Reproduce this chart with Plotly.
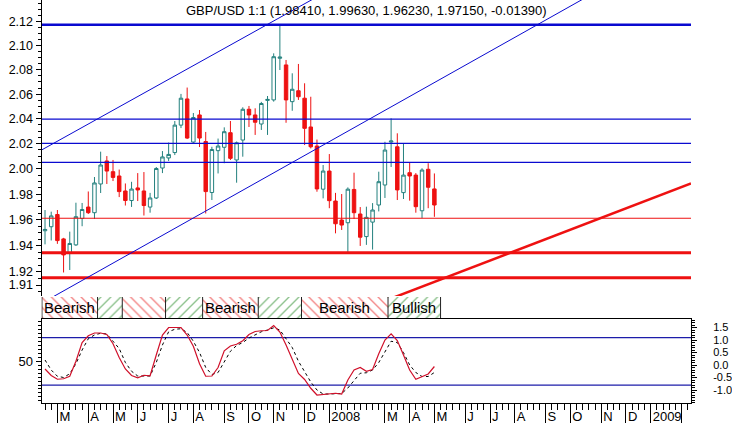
import numpy as np
import pandas as pd
import plotly.graph_objects as go

# ---------------- data ----------------
dates = pd.date_range("2007-02-16", periods=64, freq="7D")
opens = [1.9515, 1.9546, 1.9641, 1.9452, 1.9344, 1.9406, 1.9610, 1.9699, 1.9655, 1.9880,
         2.0062, 1.9977, 1.9943, 1.9825, 1.9750, 1.9849, 1.9825, 1.9699, 1.9770, 2.0006,
         2.0086, 2.0129, 2.0349, 2.0561, 2.0213, 2.0431, 2.0217, 1.9813, 2.0144, 2.0171,
         2.0288, 2.0070, 2.0229, 2.0477, 2.0431, 2.0358, 2.0549, 2.0553, 2.0895, 2.0840,
         2.0539, 2.0628, 2.0567, 2.0334, 2.0181, 1.9839, 1.9982, 1.9746, 1.9598, 1.9577,
         1.9837, 1.9645, 1.9470, 1.9582, 1.9715, 1.9872, 2.0213, 2.0175, 1.9812, 1.9969,
         1.9950, 1.9670, 1.9996, 1.9841]
highs = [1.9676, 1.9663, 1.9676, 1.9460, 1.9508, 1.9733, 1.9731, 1.9821, 1.9935, 2.0136,
         2.0101, 2.0070, 1.9994, 1.9884, 1.9897, 1.9966, 1.9974, 1.9810, 2.0014, 2.0141,
         2.0209, 2.0382, 2.0602, 2.0654, 2.0447, 2.0471, 2.0294, 2.0175, 2.0241, 2.0331,
         2.0382, 2.0217, 2.0493, 2.0504, 2.0485, 2.0537, 2.0585, 2.0936, 2.1165, 2.0881,
         2.0771, 2.0848, 2.0689, 2.0579, 2.0233, 2.0030, 2.0117, 1.9810, 1.9801, 1.9853,
         1.9969, 1.9699, 1.9702, 1.9730, 1.9977, 2.0215, 2.0404, 2.0283, 2.0203, 2.0049,
         1.9966, 2.0004, 2.0044, 1.9963]
lows = [1.9410, 1.9440, 1.9414, 1.9195, 1.9214, 1.9398, 1.9550, 1.9645, 1.9606, 1.9809,
        1.9880, 1.9903, 1.9777, 1.9711, 1.9700, 1.9746, 1.9633, 1.9655, 1.9762, 1.9966,
        2.0062, 2.0109, 2.0325, 2.0237, 2.0201, 2.0173, 1.9649, 1.9754, 1.9963, 2.0044,
        2.0070, 1.9890, 2.0096, 2.0334, 2.0270, 2.0310, 2.0270, 2.0539, 2.0798, 2.0368,
        2.0465, 2.0553, 2.0189, 2.0162, 1.9819, 1.9767, 1.9690, 1.9495, 1.9521, 1.9344,
        1.9606, 1.9398, 1.9406, 1.9370, 1.9665, 1.9770, 2.0014, 1.9754, 1.9762, 1.9749,
        1.9655, 1.9612, 1.9690, 1.9623]
closes = [1.9525, 1.9630, 1.9439, 1.9329, 1.9417, 1.9624, 1.9680, 1.9655, 1.9888, 2.0030,
          1.9982, 1.9932, 1.9820, 1.9750, 1.9840, 1.9833, 1.9711, 1.9770, 2.0002, 2.0094,
          2.0114, 2.0349, 2.0567, 2.0245, 2.0410, 2.0245, 1.9820, 2.0153, 2.0181, 2.0296,
          2.0083, 2.0207, 2.0477, 2.0431, 2.0372, 2.0524, 2.0557, 2.0908, 2.0905, 2.0553,
          2.0640, 2.0579, 2.0323, 2.0175, 1.9841, 1.9982, 1.9749, 1.9569, 1.9559, 1.9839,
          1.9655, 1.9465, 1.9619, 1.9676, 1.9898, 2.0149, 2.0221, 1.9833, 1.9950, 1.9943,
          1.9702, 1.9990, 1.9854, 1.9715]

osc_fast = [-0.16, -0.42, -0.57, -0.55, -0.45, 0.15, 0.90, 1.17, 1.28, 1.28,
            1.22, 0.85, 0.30, -0.16, -0.42, -0.51, -0.41, -0.43, 0.40, 1.20,
            1.50, 1.51, 1.50, 1.20, 0.75, 0.05, -0.45, -0.44, -0.10, 0.57,
            0.76, 0.83, 0.97, 1.22, 1.34, 1.37, 1.38, 1.58, 1.32, 0.80,
            0.25, -0.34, -0.58, -0.93, -1.20, -1.18, -1.14, -1.13, -1.16, -0.60,
            -0.20, -0.10, -0.25, -0.18, 0.45, 1.00, 1.25, 0.98, 0.40, -0.20,
            -0.57, -0.47, -0.36, -0.06]
osc_slow = [0.20, -0.20, -0.45, -0.50, -0.35, 0.05, 0.60, 1.05, 1.20, 1.27,
            1.24, 0.97, 0.66, 0.10, -0.25, -0.44, -0.44, -0.44, 0.10, 0.80,
            1.33, 1.43, 1.45, 1.30, 0.95, 0.50, -0.10, -0.38, -0.30, 0.15,
            0.55, 0.78, 0.90, 1.08, 1.20, 1.33, 1.40, 1.49, 1.40, 1.05,
            0.70, 0.15, -0.25, -0.68, -1.00, -1.16, -1.16, -1.16, -1.14, -0.92,
            -0.62, -0.33, -0.31, -0.20, 0.10, 0.55, 0.95, 0.90, 0.50, 0.00,
            -0.30, -0.46, -0.46, -0.30]
osc_levels = [80, 20]

blue_levels = [2.1175, 2.0398, 2.0203, 2.0051]
red_levels = [1.9612, 1.9346, 1.9155]

upper_channel_t = ["2007-02-12", "2007-10-24 16:00"]
upper_channel_p = [2.0149, 2.1172]
lower_channel_t = ["2007-12-31 14:00", "2008-08-26"]
lower_channel_p = [2.0203, 2.1172]
red_trend_t = ["2008-03-19", "2008-11-06"]
red_trend_p = [1.9011, 1.9612]

seg_start = ["2007-02-12 12:00", "2007-04-16 12:00", "2007-05-14 12:00", "2007-07-02 12:00",
             "2007-08-13 12:00", "2007-10-15 12:00", "2007-12-03 12:00", "2008-03-10 12:00"]
seg_end = ["2007-04-16 12:00", "2007-05-14 12:00", "2007-07-02 12:00", "2007-08-13 12:00",
           "2007-10-15 12:00", "2007-12-03 12:00", "2008-03-10 12:00", "2008-05-09 00:00"]
seg_kind = ["bear", "bull", "bear", "bull", "bear", "bull", "bear", "bull"]
seg_text = ["Bearish", "", "", "", "Bearish", "", "Bearish", "Bullish"]

price_ticks = [1.91, 1.92, 1.94, 1.96, 1.98, 2.00, 2.02, 2.04, 2.06, 2.08, 2.10, 2.12]
price_ticktext = ["1.91", "1.92", "1.94", "1.96", "1.98", "2.00", "2.02", "2.04",
                  "2.06", "2.08", "2.10", "2.12"]
osc_ticks = [-1.0, -0.5, 0.0, 0.5, 1.0, 1.5]
osc_ticktext = ["-1.0", "-0.5", "0.0", "0.5", "1.0", "1.5"]
month_labels = ["M", "A", "M", "J", "J", "A", "S", "O", "N", "D", "2008",
                "M", "A", "M", "J", "J", "A", "S", "O", "N", "D", "2009", ""]

# ---------------- styles ----------------
X_RANGE = ["2007-02-12", "2009-02-16 16:00"]
P_RANGE = [1.9017, 2.1383]
FONT = "Liberation Sans, Arial, sans-serif"
TEAL = "#23807e"
RED = "#ee1111"
BLUE = "#0a0ad0"
OSC_BLUE = "#1c1caa"
blue_widths = [2.5, 1.3, 1.3, 1.3]
red_widths = [1.2, 3, 3]

all_months = pd.date_range("2007-03-01", "2009-02-28", freq="WOM-1FRI")
# the February 2008 mark is hidden under the "2008" label in the source chart
month_ticks = [d for d in all_months if not (d.year == 2008 and d.month == 2)]

fig = go.Figure()

xr = [pd.Timestamp(X_RANGE[0]), pd.Timestamp(X_RANGE[1])]


def extend(ts, ps):
    t = np.array([pd.Timestamp(s).value for s in ts], dtype=float)
    lp = np.log(np.array(ps, dtype=float))
    slope = (lp[1] - lp[0]) / (t[1] - t[0])
    ends = [np.exp(lp[0] + slope * (x.value - t[0])) for x in xr]
    return xr, ends


for lvl, w in zip(blue_levels, blue_widths):
    fig.add_trace(go.Scatter(x=xr, y=[lvl, lvl], mode="lines", yaxis="y",
                             line=dict(color=BLUE, width=w), hoverinfo="skip"))
for lvl, w in zip(red_levels, red_widths):
    fig.add_trace(go.Scatter(x=xr, y=[lvl, lvl], mode="lines", yaxis="y",
                             line=dict(color=RED, width=w), hoverinfo="skip"))

for ts, ps, col, w in [(upper_channel_t, upper_channel_p, BLUE, 1),
                       (lower_channel_t, lower_channel_p, BLUE, 1),
                       (red_trend_t, red_trend_p, RED, 2.5)]:
    ex, ey = extend(ts, ps)
    fig.add_trace(go.Scatter(x=ex, y=ey, mode="lines", yaxis="y",
                             line=dict(color=col, width=w), hoverinfo="skip"))

fig.add_trace(go.Candlestick(
    x=dates, open=opens, high=highs, low=lows, close=closes, yaxis="y",
    increasing=dict(line=dict(color=TEAL, width=1), fillcolor="white"),
    decreasing=dict(line=dict(color=RED, width=1), fillcolor=RED),
    whiskerwidth=0))

# band of signals
s0 = pd.to_datetime(seg_start)
s1 = pd.to_datetime(seg_end)
mid = s0 + (s1 - s0) / 2
widths = (s1 - s0).total_seconds() * 1000
fig.add_trace(go.Bar(
    x=mid, y=[1] * len(mid), base=0, width=list(widths), yaxis="y2",
    marker=dict(color="white", line=dict(width=0),
                pattern=dict(shape=["\\" if k == "bear" else "/" for k in seg_kind],
                             fgcolor=["#e81010" if k == "bear" else "#1e861e" for k in seg_kind],
                             bgcolor="white", size=7, solidity=0.2)),
    hoverinfo="skip"))
for m, t in zip(mid, seg_text):
    if t:
        fig.add_annotation(x=m, y=0.5, xref="x", yref="y2", text=t, showarrow=False,
                           xanchor="center", yanchor="middle",
                           font=dict(size=15, color="black", family=FONT))
sep_x, sep_y = [], []
for b in list(s0) + [s1[-1]]:
    sep_x += [b, b, None]
    sep_y += [0, 1, None]
fig.add_trace(go.Scatter(x=sep_x, y=sep_y, mode="lines", yaxis="y2",
                         line=dict(color="#222222", width=1), hoverinfo="skip"))

# oscillator
for lvl in osc_levels:
    fig.add_trace(go.Scatter(x=xr, y=[lvl, lvl], mode="lines", yaxis="y3",
                             line=dict(color=OSC_BLUE, width=1.3), hoverinfo="skip"))
fig.add_trace(go.Scatter(x=dates, y=osc_slow, mode="lines", yaxis="y5",
                         line=dict(color="black", width=1, dash="3px,3px")))
fig.add_trace(go.Scatter(x=dates, y=osc_fast, mode="lines", yaxis="y5",
                         line=dict(color="#d0102a", width=1.2)))

XDOM = [41.5 / 732, 691 / 732]


def pdom(top_px, bot_px):
    return [1 - bot_px / 423, 1 - top_px / 423]


logr = [np.log10(P_RANGE[0]), np.log10(P_RANGE[1])]
minor_price = [round(1.905 + 0.005 * i, 3) for i in range(48)]
price_axis = dict(type="log", range=logr, domain=pdom(0, 296), anchor="x",
                  automargin=False,
                  tickmode="array", tickvals=price_ticks, ticktext=price_ticktext,
                  ticks="outside", ticklen=5, tickcolor="black", showgrid=False,
                  zeroline=False, showline=True, linecolor="black", linewidth=1,
                  tickfont=dict(size=12.5, color="black", family=FONT),
                  minor=dict(tickmode="array", tickvals=minor_price, ticks="outside",
                             ticklen=3, tickcolor="black"))

fig.update_layout(
    width=732, height=423, margin=dict(l=0, r=0, t=0, b=0, autoexpand=False),
    paper_bgcolor="white", plot_bgcolor="white", showlegend=False,
    boxgap=0.2,
    font=dict(family=FONT, size=13, color="black"),
    xaxis=dict(type="date", range=X_RANGE, domain=XDOM, anchor="y3",
               automargin=False,
               showline=True, linecolor="black", linewidth=1, mirror=True,
               showgrid=False, zeroline=False,
               tickmode="array", tickvals=month_ticks, ticktext=month_labels,
               tickangle=0,
               ticks="outside", ticklen=20, tickcolor="black",
               ticklabelposition="outside right", ticklabelstandoff=1,
               ticklabelshift=1,
               tickfont=dict(size=13, color="black", family=FONT),
               minor=dict(ticks="outside", ticklen=6, tickcolor="black",
                          tick0="2007-02-16", dtick=7 * 86400000),
               rangeslider=dict(visible=False)),
    yaxis=dict(side="left", **price_axis),
    yaxis4=dict(side="right", overlaying="y", ticklabelstandoff=3, **price_axis),
    yaxis2=dict(domain=pdom(297, 318), anchor="x", range=[0, 1], visible=False,
                fixedrange=True, automargin=False),
    yaxis3=dict(domain=pdom(319, 403), anchor="x", range=[-2.7, 103.4],
                automargin=False,
                tickmode="array", tickvals=[50], ticktext=["50"],
                ticks="outside", ticklen=5, tickcolor="black",
                showgrid=False, zeroline=False, showline=True, linecolor="black",
                tickfont=dict(size=13, color="black", family=FONT),
                minor=dict(ticks="outside", ticklen=3, tickcolor="black",
                           tick0=0, dtick=5)),
    yaxis5=dict(domain=pdom(319, 403), anchor="x", overlaying="y3", side="right",
                automargin=False,
                range=[-1.52, 1.84], tickmode="array", tickvals=osc_ticks,
                ticktext=osc_ticktext, ticks="outside", ticklen=5, tickcolor="black",
                ticklabelstandoff=14,
                showgrid=False, zeroline=False, showline=True, linecolor="black",
                tickfont=dict(size=11, color="black", family=FONT),
                minor=dict(ticks="outside", ticklen=3, tickcolor="black",
                           tick0=0, dtick=0.1)),
)

title = "GBP/USD 1:1 ({:.5f}, {:.5f}, {:.5f}, {:.5f}, {:.5f})".format(
    opens[-1], highs[-1], lows[-1], closes[-1], closes[-1] - closes[-2])
fig.add_annotation(text=title, xref="paper", yref="paper", x=0.5, y=1 - 10 / 423,
                   xanchor="center", yanchor="middle", showarrow=False,
                   font=dict(size=13, color="black", family=FONT))

fig.write_html("out.html")
